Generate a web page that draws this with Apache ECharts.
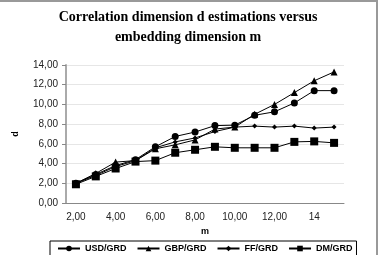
<!DOCTYPE html>
<html lang="en">
<head>
	<meta charset="UTF-8">
	<title>Correlation dimension</title>
	<script src="https://cdn.jsdelivr.net/npm/echarts@6/dist/echarts.min.js"></script>
	<style>
		html, body { margin: 0; padding: 0; background: #fff; }
		#chartBox { width: 378px; height: 255px; box-sizing: border-box; border-top: 2px solid #999; border-right: 2px solid #999; }
	</style>
</head>
<body>
<div id="chartBox"></div>
<script>
    // embedding dimension m (2..15), labels as printed
    var mLabels = ['2,00', '3,00', '4,00', '5,00', '6,00', '7,00', '8,00', '9,00', '10,00', '11,00', '12,00', '13,00', '14', '15'];
    var usdGrd = [2.0, 2.9, 3.8, 4.4, 5.7, 6.75, 7.2, 7.85, 7.9, 8.9, 9.25, 10.15, 11.4, 11.4];
    var gbpGrd = [2.0, 3.0, 4.15, 4.3, 5.5, 5.9, 6.4, 7.5, 7.7, 9.0, 10.0, 11.2, 12.4, 13.3];
    var ffGrd = [2.0, 2.8, 3.7, 4.3, 5.6, 6.2, 6.6, 7.25, 7.7, 7.8, 7.7, 7.8, 7.6, 7.7];
    var dmGrd = [1.9, 2.7, 3.5, 4.2, 4.3, 5.1, 5.4, 5.7, 5.6, 5.6, 5.6, 6.2, 6.25, 6.1];
    var yTicks = [0, 2, 4, 6, 8, 10, 12, 14];

    var myChart = echarts.init(document.getElementById('chartBox'));

    function lineSeries(name, data, symbol, size) {
        return {
            name: name,
            type: 'line',
            data: data,
            symbol: symbol,
            symbolSize: size,
            lineStyle: { color: '#000', width: 1 },
            itemStyle: { color: '#000' },
            animation: false
        };
    }

    var option = {
        title: {
            text: 'Correlation dimension d estimations versus\nembedding dimension m',
            left: 'center',
            top: 0,
            textStyle: { fontFamily: 'Liberation Serif', fontWeight: 'bold', fontSize: 14, lineHeight: 20, color: '#000' }
        },
        legend: {
            bottom: -6,
            left: 50,
            width: 340,
            itemGap: 10,
            itemWidth: 22,
            itemHeight: 7,
            padding: [3, 4, 8, 7],
            borderColor: '#000',
            borderWidth: 1,
            textStyle: { fontFamily: 'Liberation Sans', fontWeight: 'bold', fontSize: 9, color: '#000' },
            data: ['USD/GRD', 'GBP/GRD', 'FF/GRD', 'DM/GRD']
        },
        grid: { left: 66, right: 32, top: 63, bottom: 52 },
        xAxis: {
            type: 'category',
            data: mLabels,
            boundaryGap: true,
            name: 'm',
            nameLocation: 'middle',
            nameGap: 19,
            nameTextStyle: { fontFamily: 'Liberation Sans', fontWeight: 'bold', fontSize: 9, color: '#000' },
            axisLine: { lineStyle: { color: '#888', width: 1 } },
            axisTick: { alignWithLabel: false, length: 4, lineStyle: { color: '#888' } },
            axisLabel: { interval: 1, margin: 9, fontFamily: 'Liberation Sans', fontSize: 10, color: '#222' }
        },
        yAxis: {
            type: 'value',
            min: 0,
            max: 14,
            interval: 2,
            name: 'd',
            nameLocation: 'middle',
            nameGap: 46,
            nameTextStyle: { fontFamily: 'Liberation Sans', fontWeight: 'bold', fontSize: 9, color: '#000' },
            axisLine: { show: true, lineStyle: { color: '#aaa', width: 2 } },
            axisTick: { show: true, length: 4, lineStyle: { color: '#888' } },
            splitLine: { lineStyle: { color: '#e6e6e6' } },
            axisLabel: {
                margin: 8, fontFamily: 'Liberation Sans', fontSize: 10, color: '#222',
                formatter: function (v) { return yTicks.indexOf(v) >= 0 ? v.toFixed(2).replace('.', ',') : ''; }
            }
        },
        series: [
            lineSeries('USD/GRD', usdGrd, 'circle', 7),
            lineSeries('GBP/GRD', gbpGrd, 'triangle', 7),
            lineSeries('FF/GRD', ffGrd, 'diamond', 5),
            lineSeries('DM/GRD', dmGrd, 'rect', 8)
        ]
    };
    myChart.setOption(option);
</script>
</body>
</html>
